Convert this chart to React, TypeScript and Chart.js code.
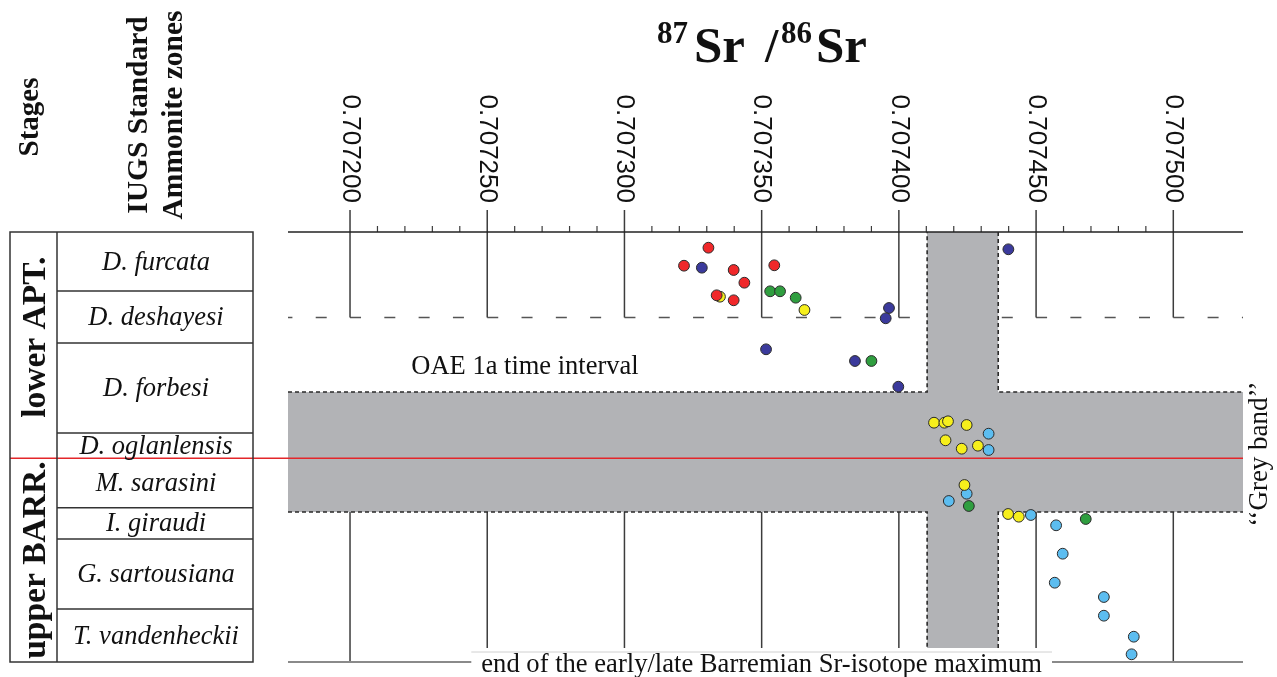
import React, { useEffect, useRef } from "react";
import { Chart, registerables } from "chart.js";

Chart.register(...registerables);

// ---- x axis (87Sr/86Sr) ----
const X_MIN = 0.7071774;
const X_MAX = 0.7075254;
const majorTicks = [0.7072, 0.70725, 0.7073, 0.70735, 0.7074, 0.70745, 0.7075];
const tickLabels = ["0.707200", "0.707250", "0.707300", "0.707350", "0.707400", "0.707450", "0.707500"];
const minorStep = 0.00001;

// ---- y axis: stratigraphic position (arbitrary units, 0 = top) ----
const Y_MAX = 430;
const zoneNames = [
  "D. furcata",
  "D. deshayesi",
  "D. forbesi",
  "D. oglanlensis",
  "M. sarasini",
  "I. giraudi",
  "G. sartousiana",
  "T. vandenheckii",
];
const zoneBounds = [0, 59, 111, 201, 226.3, 275.7, 307, 377, 430];
const stageNames = ["lower APT.", "upper BARR."];
const stageBounds = [0, 226.3, 430];
const aptianBarremianBoundary = 226.3;
const oaeTop = 85.5;
const greyBandX = [0.7074103, 0.7074362];
const greyBandY = [160, 280];

// ---- data series ----
const redSr = [0.7073306, 0.7073217, 0.7073398, 0.7073546, 0.7073437, 0.7073336, 0.7073398];
const redPos = [15.7, 33.7, 38, 33.3, 50.7, 63.3, 68.3];

const navySr = [0.7073282, 0.7074399, 0.7073964, 0.7073952, 0.7073516, 0.707384, 0.7073998];
const navyPos = [35.7, 17.3, 76, 86.3, 117.3, 129, 154.7];

const greenSr = [0.7073531, 0.7073567, 0.7073624, 0.70739, 0.7074255, 0.7074681];
const greenPos = [59.3, 59.3, 65.7, 129, 274, 287];

const yellowSr = [
  0.7073656, 0.7073348, 0.7074128, 0.7074166, 0.7074179, 0.7074247, 0.707417, 0.7074229, 0.7074288,
  0.7074239, 0.7074398, 0.7074437,
];
const yellowPos = [78, 64.7, 190.7, 190.7, 189.3, 193, 208.3, 216.7, 213.7, 253, 282, 284.7];

const blueSr = [
  0.7074327, 0.7074327, 0.7074247, 0.7074182, 0.7074481, 0.7074573, 0.7074597, 0.7074568, 0.7074747,
  0.7074747, 0.7074856, 0.7074848,
];
const bluePos = [201.7, 218, 261.7, 269, 283, 293.3, 321.7, 350.7, 365, 383.7, 404.7, 422.3];

const SERIF = '"Liberation Serif", "Times New Roman", serif';
const SANS = '"Liberation Sans", Arial, sans-serif';
const GREY = "#b2b3b6";

function pts(xs: number[], ys: number[]) {
  return xs.map((x, i) => ({ x, y: ys[i] }));
}

function line(ctx: CanvasRenderingContext2D, x0: number, y0: number, x1: number, y1: number) {
  ctx.beginPath();
  ctx.moveTo(x0, y0);
  ctx.lineTo(x1, y1);
  ctx.stroke();
}

function rotText(
  ctx: CanvasRenderingContext2D,
  text: string,
  x: number,
  y: number,
  angle: number,
  font: string,
  align: CanvasTextAlign,
  baseline: CanvasTextBaseline
) {
  ctx.save();
  ctx.translate(x, y);
  ctx.rotate(angle);
  ctx.font = font;
  ctx.textAlign = align;
  ctx.textBaseline = baseline;
  ctx.fillStyle = "#111";
  ctx.fillText(text, 0, 0);
  ctx.restore();
}

const backgroundPlugin = {
  id: "srBackground",
  beforeDatasetsDraw(chart: any) {
    const { ctx, chartArea: a, scales } = chart;
    const X = (v: number) => scales.x.getPixelForValue(v);
    const Y = (v: number) => scales.y.getPixelForValue(v);
    ctx.save();

    const bx0 = X(greyBandX[0]);
    const bx1 = X(greyBandX[1]);
    const by0 = Y(greyBandY[0]);
    const by1 = Y(greyBandY[1]);

    // OAE dashed line
    const P = (X(majorTicks[1]) - X(majorTicks[0])) / 4;
    ctx.strokeStyle = "#555";
    ctx.lineWidth = 1.6;
    ctx.setLineDash([11, P - 11]);
    ctx.lineDashOffset = (((a.left - X(majorTicks[0])) % P) + P) % P;
    line(ctx, a.left, Y(oaeTop), a.right, Y(oaeTop));
    ctx.setLineDash([]);
    ctx.lineDashOffset = 0;

    // grid lines
    ctx.strokeStyle = "#3c3c3c";
    ctx.lineWidth = 1.5;
    majorTicks.forEach((v) => {
      const x = X(v);
      line(ctx, x, a.top - 22, x, Y(oaeTop));
      line(ctx, x, by1, x, a.bottom);
    });
    // minor ticks
    ctx.lineWidth = 1.2;
    for (let v = majorTicks[0] + minorStep; v < majorTicks[majorTicks.length - 1] - minorStep / 2; v += minorStep) {
      const isMajor = majorTicks.some((m) => Math.abs(m - v) < minorStep / 10);
      if (isMajor) continue;
      const x = X(v);
      line(ctx, x, a.top - 6, x, a.top);
    }

    // grey band (cross)
    ctx.fillStyle = GREY;
    ctx.fillRect(a.left, by0, a.right - a.left, by1 - by0);
    ctx.fillRect(bx0, a.top, bx1 - bx0, a.bottom - a.top);

    // top axis line
    ctx.strokeStyle = "#222";
    ctx.lineWidth = 1.5;
    line(ctx, a.left, a.top, a.right, a.top);

    // band dashed outline
    ctx.strokeStyle = "#2a2a2a";
    ctx.lineWidth = 1.6;
    ctx.setLineDash([4, 3]);
    const poly = (p: number[][]) => {
      ctx.beginPath();
      ctx.moveTo(p[0][0], p[0][1]);
      for (let i = 1; i < p.length; i++) ctx.lineTo(p[i][0], p[i][1]);
      ctx.stroke();
    };
    poly([[a.left, by0], [bx0, by0], [bx0, a.top]]);
    poly([[bx1, a.top], [bx1, by0], [a.right, by0]]);
    poly([[a.left, by1], [bx0, by1], [bx0, a.bottom]]);
    poly([[bx1, a.bottom], [bx1, by1], [a.right, by1]]);
    ctx.setLineDash([]);

    // bottom line with label box
    ctx.strokeStyle = "#8a8a8a";
    ctx.lineWidth = 2;
    line(ctx, a.left, a.bottom, a.right, a.bottom);
    const bottomText = "end of the early/late Barremian Sr-isotope maximum";
    ctx.font = `26.6px ${SERIF}`;
    const tw = ctx.measureText(bottomText).width;
    const tcx = X(0.70735);
    ctx.fillStyle = "#fff";
    ctx.fillRect(tcx - tw / 2 - 10, a.bottom - 14, tw + 20, 30);
    ctx.strokeStyle = "#d0d0d0";
    ctx.lineWidth = 1;
    line(ctx, tcx - tw / 2 - 10, a.bottom - 10, tcx + tw / 2 + 10, a.bottom - 10);
    ctx.fillStyle = "#111";
    ctx.textAlign = "center";
    ctx.textBaseline = "alphabetic";
    ctx.fillText(bottomText, tcx, a.bottom + 10);

    // red boundary line
    const ry = Y(aptianBarremianBoundary);
    ctx.strokeStyle = "#e3262a";
    ctx.lineWidth = 1.6;
    line(ctx, 10, ry, a.right, ry);

    // left table
    const tL = 10, tM = 57, tR = 253;
    ctx.strokeStyle = "#333";
    ctx.lineWidth = 1.5;
    ctx.strokeRect(tL, Y(0), tR - tL, Y(Y_MAX) - Y(0));
    line(ctx, tM, Y(0), tM, Y(Y_MAX));
    zoneBounds.slice(1, -1).forEach((b) => {
      if (Math.abs(b - aptianBarremianBoundary) < 0.01) return;
      line(ctx, tM, Y(b), tR, Y(b));
    });
    ctx.fillStyle = "#111";
    ctx.font = `italic 26.5px ${SERIF}`;
    ctx.textAlign = "center";
    ctx.textBaseline = "alphabetic";
    zoneNames.forEach((n, i) => {
      const c = (Y(zoneBounds[i]) + Y(zoneBounds[i + 1])) / 2;
      const yy = i === 3 ? Y(zoneBounds[i + 1]) - 4 : c + 8;
      ctx.fillText(n, (tM + tR) / 2 + 1, yy);
    });
    const stageShift = [-8, 0];
    stageNames.forEach((n, i) => {
      const c = (Y(stageBounds[i]) + Y(stageBounds[i + 1])) / 2 + stageShift[i];
      rotText(ctx, n, 45, c, -Math.PI / 2, `bold 33.5px ${SERIF}`, "center", "alphabetic");
    });

    // column headers
    rotText(ctx, "Stages", 38, 117, -Math.PI / 2, `bold 29px ${SERIF}`, "center", "alphabetic");
    rotText(ctx, "IUGS Standard", 147, 115, -Math.PI / 2, `bold 29.5px ${SERIF}`, "center", "alphabetic");
    rotText(ctx, "Ammonite zones", 182, 115, -Math.PI / 2, `bold 29.5px ${SERIF}`, "center", "alphabetic");

    // tick labels (rotated clockwise)
    majorTicks.forEach((v, i) => {
      rotText(ctx, tickLabels[i], X(v), a.top - 29, Math.PI / 2, `26px ${SANS}`, "right", "middle");
    });

    // annotations
    ctx.fillStyle = "#111";
    ctx.font = `26.5px ${SERIF}`;
    ctx.textAlign = "center";
    ctx.textBaseline = "alphabetic";
    ctx.fillText("OAE 1a time interval", 525, Y(oaeTop) + 56);
    rotText(ctx, "\u2018\u2018Grey band\u2019\u2019", 1267, (by0 + by1) / 2 + 2, -Math.PI / 2, `27px ${SERIF}`, "center", "alphabetic");

    // title
    const tb = 62;
    ctx.textAlign = "left";
    const part = (t: string, size: number, x: number, base: number) => {
      ctx.font = `bold ${size}px ${SERIF}`;
      ctx.fillText(t, x, base);
    };
    part("87", 31, 657, tb - 19);
    part("Sr", 51, 694, tb);
    part("/", 48, 765, tb);
    part("86", 31, 781, tb - 19);
    part("Sr", 51, 816, tb);

    ctx.restore();
  },
};

export default function App() {
  const ref = useRef<HTMLCanvasElement | null>(null);
  useEffect(() => {
    if (!ref.current) return;
    const mk = (label: string, xs: number[], ys: number[], color: string) => ({
      label,
      data: pts(xs, ys),
      backgroundColor: color,
      borderColor: "#2b2b2b",
      borderWidth: 1,
      pointRadius: 5.4,
      pointHoverRadius: 5.4,
    });
    const chart = new Chart(ref.current, {
      type: "scatter",
      data: {
        datasets: [
          mk("red", redSr, redPos, "#f0282a"),
          mk("navy", navySr, navyPos, "#3b3a9c"),
          mk("green", greenSr, greenPos, "#2f9e3f"),
          mk("yellow", yellowSr, yellowPos, "#f6ef1c"),
          mk("lightblue", blueSr, bluePos, "#5cbdf0"),
        ],
      },
      options: {
        animation: false,
        responsive: false,
        devicePixelRatio: 1,
        layout: { padding: { left: 288, right: 34, top: 232, bottom: 15 } },
        plugins: { legend: { display: false }, tooltip: { enabled: false } },
        events: [],
        scales: {
          x: { type: "linear", min: X_MIN, max: X_MAX, display: false },
          y: { type: "linear", min: 0, max: Y_MAX, reverse: true, display: false },
        },
      },
      plugins: [backgroundPlugin],
    });
    return () => chart.destroy();
  }, []);
  return (
    <div style={{ position: "absolute", left: 0, top: 0, width: 1277, height: 677, background: "#fff" }}>
      <canvas ref={ref} width={1277} height={677} style={{ display: "block" }} />
    </div>
  );
}
